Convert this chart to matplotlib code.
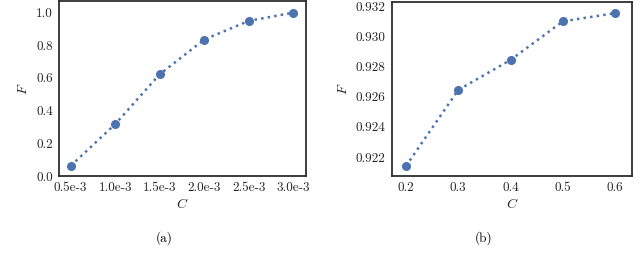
import matplotlib
matplotlib.use("Agg")
import matplotlib.pyplot as plt

# values
c_a = [0.5e-3, 1.0e-3, 1.5e-3, 2.0e-3, 2.5e-3, 3.0e-3]
f_a = [0.062, 0.317, 0.622, 0.834, 0.948, 0.998]
ticks_a = ["0.5e-3", "1.0e-3", "1.5e-3", "2.0e-3", "2.5e-3", "3.0e-3"]

c_b = [0.2, 0.3, 0.4, 0.5, 0.6]
f_b = [0.9214, 0.92645, 0.92844, 0.9310, 0.93154]
yticks_b = [0.922, 0.924, 0.926, 0.928, 0.930, 0.932]

blue = "#4c72b0"
dark = "#262626"

plt.rcParams["font.family"] = "serif"
plt.rcParams["font.serif"] = ["cmr10", "DejaVu Serif"]
plt.rcParams["mathtext.fontset"] = "cm"
plt.rcParams["axes.unicode_minus"] = False
plt.rcParams["axes.formatter.use_mathtext"] = True
plt.rcParams["font.size"] = 9.5

fig = plt.figure(figsize=(6.4, 2.65), dpi=100)
ax1 = fig.add_axes([0.0922, 0.336, 0.386, 0.660])
ax2 = fig.add_axes([0.6125, 0.336, 0.375, 0.657])


def style(ax):
    for s in ax.spines.values():
        s.set_color(dark)
        s.set_linewidth(1.25)
    ax.tick_params(length=0, pad=4.5, colors=dark, labelsize=9.5)
    ax.set_xlabel("$C$", color=dark, fontsize=10, labelpad=2)
    ax.set_ylabel("$F$", color=dark, fontsize=10, labelpad=4)


# (a)
ax1.plot(c_a, f_a, linestyle=":", linewidth=1.8, color=blue,
         marker="o", markersize=5.5)
ax1.set_xticks(c_a)
ax1.set_xticklabels(ticks_a)
ax1.set_yticks([0.0, 0.2, 0.4, 0.6, 0.8, 1.0])
ax1.set_yticklabels(["0.0", "0.2", "0.4", "0.6", "0.8", "1.0"])
ax1.set_xlim(0.369e-3, 3.142e-3)
ax1.set_ylim(0.0, 1.069)
style(ax1)

# (b)
ax2.plot(c_b, f_b, linestyle=":", linewidth=1.8, color=blue,
         marker="o", markersize=5.5)
ax2.set_xticks(c_b)
ax2.set_xticklabels(["0.2", "0.3", "0.4", "0.5", "0.6"])
ax2.set_yticks(yticks_b)
ax2.set_yticklabels(["%.3f" % v for v in yticks_b])
ax2.set_xlim(0.1733, 0.632)
ax2.set_ylim(0.92074, 0.93229)
style(ax2)

fig.text(0.257, 0.102, "(a)", ha="center", va="center", fontsize=9.5, color="black")
fig.text(0.756, 0.102, "(b)", ha="center", va="center", fontsize=9.5, color="black")

fig.savefig("out.png", dpi=100, facecolor="white")
